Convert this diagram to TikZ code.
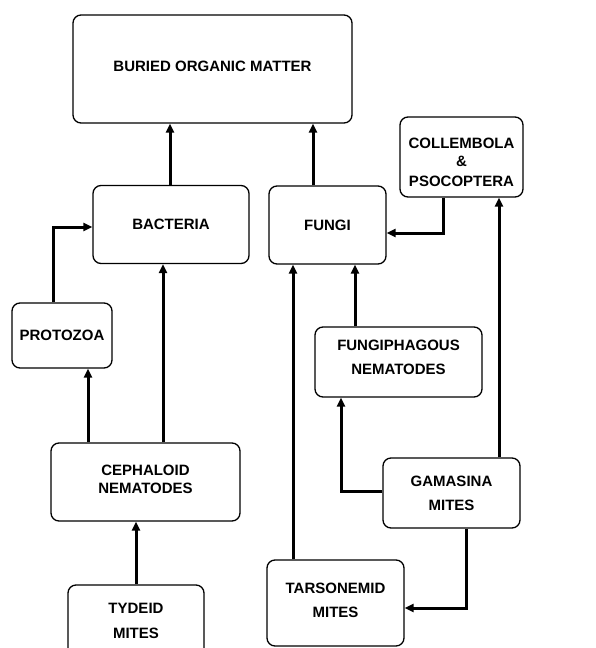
\documentclass[tikz,border=0pt]{standalone}
\usepackage{fontspec}
\setmainfont{Liberation Sans}
\usetikzlibrary{arrows.meta}
\begin{document}
\begin{tikzpicture}[x=1pt,y=-1pt,
  box/.style={draw, line width=1.3pt, rounded corners=8pt, inner sep=0pt, align=center,
    font=\fontsize{15}{18}\selectfont\bfseries},
  txt/.style={inner sep=0pt, align=center, font=\fontsize{15}{18}\selectfont\bfseries},
  arr/.style={line width=3pt, -{Triangle[length=9pt,width=8pt]}}]
\useasboundingbox (0,0) rectangle (596,648);
\begin{scope}
\clip (0,0) rectangle (596,648);
\node[box, minimum width=279pt, minimum height=108pt, text depth=6pt] (buried) at (212.5,69) {BURIED ORGANIC MATTER};
\node[box, minimum width=123pt, minimum height=80pt] (coll) at (461.5,157) {};
\node[txt] (colltxt) at (461.5,162) {COLLEMBOLA\\[0pt]\&\\[2pt]PSOCOPTERA};
\node[box, minimum width=156pt, minimum height=78pt] (bact) at (171,224.5) {BACTERIA};
\node[box, minimum width=117pt, minimum height=78pt] (fungi) at (327.5,225) {FUNGI};
\node[box, minimum width=100pt, minimum height=65pt] (proto) at (62,335.5) {PROTOZOA};
\node[box, minimum width=167pt, minimum height=70pt, text depth=10pt] (fungiph) at (398.5,362) {FUNGIPHAGOUS\\[6pt]NEMATODES};
\node[box, minimum width=189pt, minimum height=78pt, text depth=6pt] (ceph) at (145.5,482) {CEPHALOID\\NEMATODES};
\node[box, minimum width=137pt, minimum height=70pt] (gam) at (451.5,493) {GAMASINA\\[6pt]MITES};
\node[box, minimum width=137pt, minimum height=86pt, text depth=6pt] (tars) at (335.5,603) {TARSONEMID\\[6pt]MITES};
\node[box, minimum width=136pt, minimum height=72pt] (tyd) at (136,621) {TYDEID\\[7pt]MITES};
\end{scope}
% helper x positions
\coordinate (xb) at (170,0);
\coordinate (xf) at (313,0);
\coordinate (xc) at (443,0);
\coordinate (xg) at (499,0);
\coordinate (xp) at (53,0);
\coordinate (xcb) at (163,0);
\coordinate (xcp) at (88,0);
\coordinate (xt) at (293,0);
\coordinate (xfn) at (355,0);
\coordinate (xgf) at (341,0);
\coordinate (xgt) at (466,0);
\coordinate (xty) at (136,0);
\coordinate (yc) at (0,233);
\coordinate (yp) at (0,227);
\coordinate (yg) at (0,491);
\coordinate (yt) at (0,608);
% connectors
\draw[arr] (xb |- bact.north) -- (xb |- buried.south);
\draw[arr] (xf |- fungi.north) -- (xf |- buried.south);
\draw[arr] (xc |- coll.south) |- (fungi.east |- yc);
\draw[arr] (xg |- gam.north) -- (xg |- coll.south);
\draw[arr] (xp |- proto.north) |- (bact.west |- yp);
\draw[arr] (xcb |- ceph.north) -- (xcb |- bact.south);
\draw[arr] (xcp |- ceph.north) -- (xcp |- proto.south);
\draw[arr] (xt |- tars.north) -- (xt |- fungi.south);
\draw[arr] (xfn |- fungiph.north) -- (xfn |- fungi.south);
\draw[arr] (gam.west |- yg) -| (xgf |- fungiph.south);
\draw[arr] (xgt |- gam.south) |- (tars.east |- yt);
\draw[arr] (xty |- tyd.north) -- (xty |- ceph.south);
\end{tikzpicture}
\end{document}
